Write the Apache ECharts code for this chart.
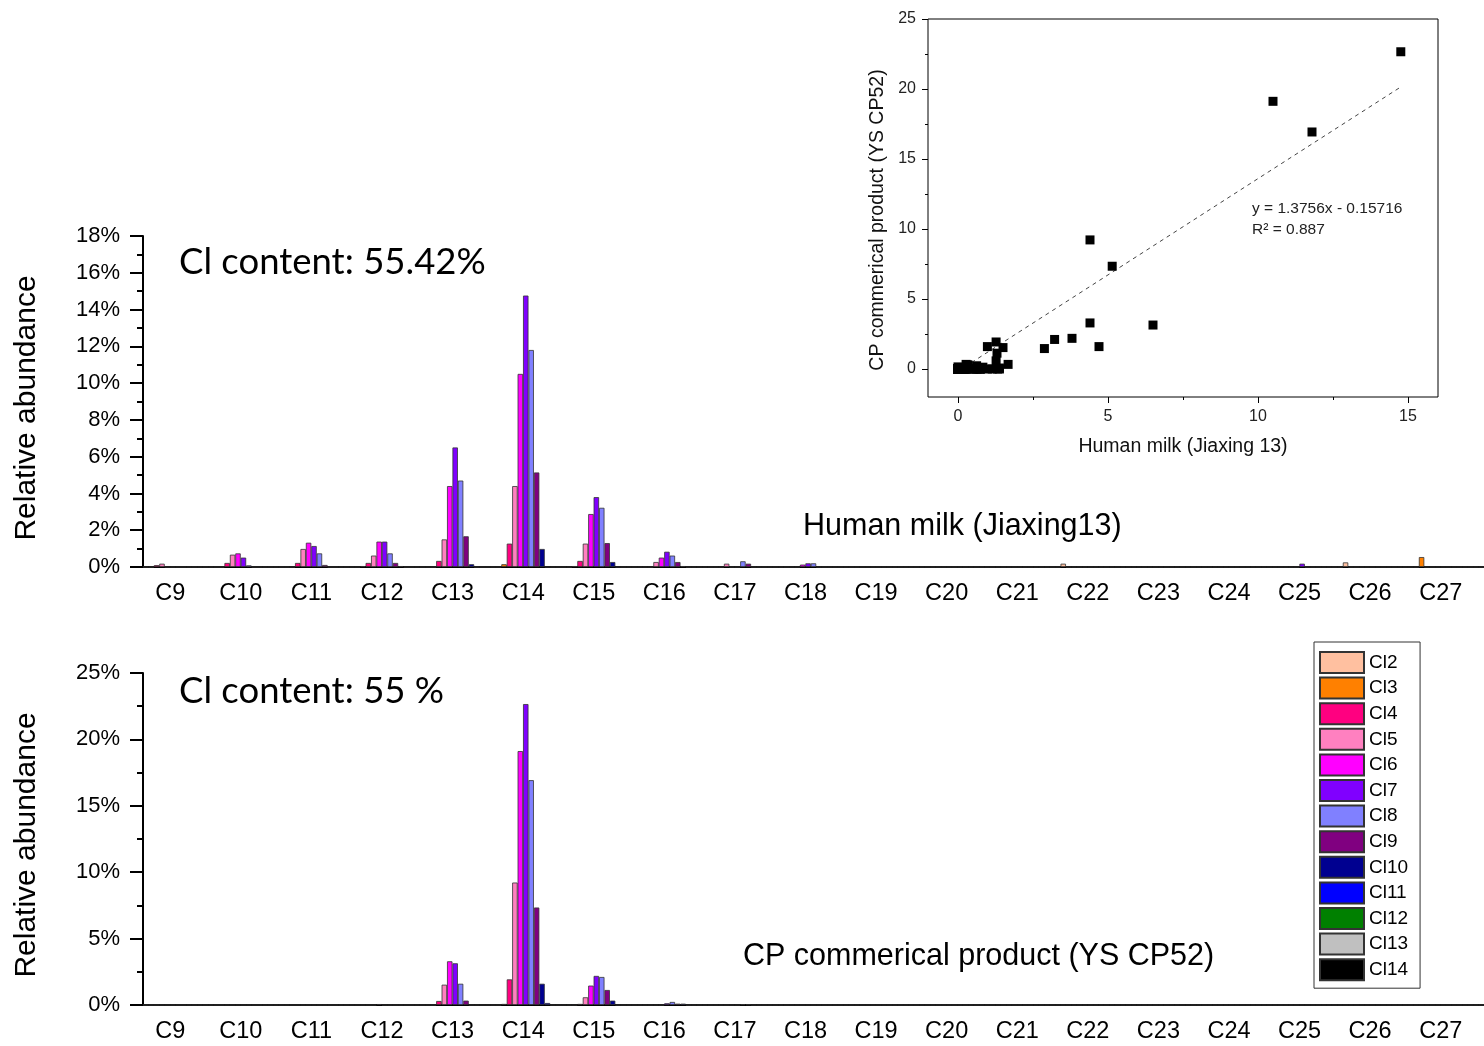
<!DOCTYPE html>
<html><head><meta charset="utf-8">
<script src="https://cdn.jsdelivr.net/npm/echarts@6/dist/echarts.min.js"></script>
<style>html,body{margin:0;padding:0;background:#fff}#c{width:1484px;height:1046px}</style>
</head><body><div id="c"></div>
<script>
const categories = ['C9','C10','C11','C12','C13','C14','C15','C16','C17','C18','C19','C20','C21','C22','C23','C24','C25','C26','C27'];
const clNames = ['Cl2','Cl3','Cl4','Cl5','Cl6','Cl7','Cl8','Cl9','Cl10','Cl11','Cl12','Cl13','Cl14'];
const clColors = ['#FFC0A0','#FF8000','#FF0080','#FF80C0','#FF00FF','#8000FF','#8080FF','#800080','#000090','#0000FF','#008000','#C0C0C0','#000000'];

// Human milk (Jiaxing13), relative abundance in %, C9..C27
const milkCl2  = [0,0,0,0,0,0,0,0,0,0,0,0,0,0.18,0,0,0,0.25,0];
const milkCl3  = [0,0,0,0.05,0,0.15,0.05,0,0,0,0,0,0,0,0,0,0,0,0.54];
const milkCl4  = [0.10,0.22,0.22,0.22,0.33,1.27,0.33,0,0,0,0,0,0,0,0,0,0,0,0];
const milkCl5  = [0.18,0.67,0.98,0.62,1.50,4.40,1.27,0.27,0.18,0,0,0,0,0,0,0,0,0,0];
const milkCl6  = [0,0.74,1.32,1.38,4.40,10.50,2.88,0.51,0,0.13,0,0,0,0,0,0,0,0,0];
const milkCl7  = [0,0.51,1.14,1.38,6.50,14.76,3.80,0.83,0,0.20,0,0,0,0,0,0,0.18,0,0];
const milkCl8  = [0,0.09,0.74,0.74,4.70,11.80,3.22,0.62,0.31,0.20,0,0,0,0,0,0,0,0,0];
const milkCl9  = [0,0,0.11,0.22,1.67,5.14,1.30,0.27,0.18,0,0,0,0,0,0,0,0,0,0];
const milkCl10 = [0,0,0,0.05,0.15,0.98,0.27,0.05,0,0,0,0,0,0,0,0,0,0,0];
const milkCl11 = [0,0,0,0,0,0,0,0,0,0,0,0,0,0,0,0,0,0,0];
const milkCl12 = [0,0,0,0,0,0,0,0,0,0,0,0,0,0,0,0,0,0,0];
const milkCl13 = [0,0,0,0,0,0,0,0,0,0,0,0,0,0,0,0,0,0,0];
const milkCl14 = [0,0,0,0,0,0,0,0,0,0,0,0,0,0,0,0,0,0,0];

// CP commerical product (YS CP52), relative abundance in %, C9..C27
const cpCl2  = [0,0,0,0,0,0,0,0,0,0,0,0,0,0,0,0,0,0,0];
const cpCl3  = [0,0,0,0,0,0.08,0,0,0,0,0,0,0,0,0,0,0,0,0];
const cpCl4  = [0,0,0,0,0.30,1.93,0.08,0,0,0,0,0,0,0,0,0,0,0,0];
const cpCl5  = [0,0,0,0,1.53,9.22,0.58,0,0,0,0,0,0,0,0,0,0,0,0];
const cpCl6  = [0,0,0,0.07,3.29,19.12,1.46,0,0,0,0,0,0,0,0,0,0,0,0];
const cpCl7  = [0,0,0,0,3.14,22.66,2.19,0.13,0,0,0,0,0,0,0,0,0,0,0];
const cpCl8  = [0,0,0,0,1.60,16.93,2.11,0.23,0.05,0,0,0,0,0,0,0,0,0,0];
const cpCl9  = [0,0,0,0,0.33,7.34,1.13,0.10,0.04,0,0,0,0,0,0,0,0,0,0];
const cpCl10 = [0,0,0,0,0,1.60,0.33,0.10,0,0,0,0,0,0,0,0,0,0,0];
const cpCl11 = [0,0,0,0,0,0.15,0,0,0,0,0,0,0,0,0,0,0,0,0];
const cpCl12 = [0,0,0,0,0,0,0,0,0,0,0,0,0,0,0,0,0,0,0];
const cpCl13 = [0,0,0,0,0,0,0,0,0,0,0,0,0,0,0,0,0,0,0];
const cpCl14 = [0,0,0,0,0,0,0,0,0,0,0,0,0,0,0,0,0,0,0];

const scatterXTicks = [0,5,10,15];
const scatterYTicks = [0,5,10,15,20,25];
const scatterXMinor = [2.5,7.5,12.5];
const scatterYMinor = [2.5,7.5,12.5,17.5,22.5];
const fitSlope = 1.3756, fitIntercept = -0.15716, fitXRange = [0, 14.76];

const milkSeries = [milkCl2,milkCl3,milkCl4,milkCl5,milkCl6,milkCl7,milkCl8,milkCl9,milkCl10,milkCl11,milkCl12,milkCl13,milkCl14];
const cpSeries = [cpCl2,cpCl3,cpCl4,cpCl5,cpCl6,cpCl7,cpCl8,cpCl9,cpCl10,cpCl11,cpCl12,cpCl13,cpCl14];

const FONT = '"Liberation Sans", Arial, sans-serif';

const scatterData = [];
milkSeries.forEach((arr, i) => arr.forEach((v, j) => scatterData.push([v, cpSeries[i][j]])));

function catAxes(gridIndex) {
  return [{
    type: 'category', gridIndex, data: categories, position: 'bottom',
    axisLine: { lineStyle: { color: '#000', width: 2 } },
    axisTick: { alignWithLabel: true, length: 13, lineStyle: { color: '#000', width: 2 } },
    axisLabel: { color: '#000', fontSize: 23.5, fontFamily: FONT, margin: 15, padding: [0, 16, 0, 0], interval: 0 }
  }, {
    type: 'category', gridIndex, data: categories, position: 'bottom',
    axisLine: { show: false },
    axisTick: { length: 7, lineStyle: { color: '#000', width: 2 } },
    axisLabel: { show: false }
  }];
}
function valAxis(gridIndex, max, interval) {
  return {
    type: 'value', gridIndex, min: 0, max, interval,
    axisLine: { show: true, lineStyle: { color: '#000', width: 2 } },
    axisTick: { show: true, length: 13, lineStyle: { color: '#000', width: 2 } },
    minorTick: { show: true, splitNumber: 2, length: 6, lineStyle: { color: '#000', width: 2 } },
    splitLine: { show: false },
    axisLabel: { formatter: '{value}%', color: '#000', fontSize: 22, fontFamily: FONT, margin: 23 }
  };
}
function scatterAxis(gridIndex, min, max, ticks, len, labels, extra) {
  return Object.assign({
    type: 'value', gridIndex, min, max,
    axisLine: { show: false, onZero: false }, splitLine: { show: false },
    axisTick: { show: true, customValues: ticks, length: len, lineStyle: { color: '#000' } },
    axisLabel: labels ? { customValues: ticks, color: '#222', fontSize: 16, fontFamily: FONT, margin: 12 } : { show: false }
  }, extra);
}

const series = [];
clNames.forEach((n, i) => {
  series.push({ type: 'bar', name: n, xAxisIndex: 0, yAxisIndex: 0, data: milkSeries[i],
    barGap: '0%', barCategoryGap: '0%',
    itemStyle: { color: clColors[i], borderColor: '#333', borderWidth: 0.8 } });
});
clNames.forEach((n, i) => {
  series.push({ type: 'bar', name: n, xAxisIndex: 2, yAxisIndex: 1, data: cpSeries[i],
    barGap: '0%', barCategoryGap: '0%',
    itemStyle: { color: clColors[i], borderColor: '#333', borderWidth: 0.8 } });
});
series.push({ type: 'scatter', name: 'pairs', xAxisIndex: 4, yAxisIndex: 2, data: scatterData,
  symbol: 'rect', symbolSize: 9, itemStyle: { color: '#000', opacity: 1 }, z: 5 });
series.push({ type: 'line', name: 'fit', xAxisIndex: 4, yAxisIndex: 2,
  data: fitXRange.map(x => [x, fitSlope * x + fitIntercept]),
  symbol: 'none', lineStyle: { color: '#444', width: 1, type: [4, 4] }, z: 4 });

const option = {
  animation: false,
  grid: [
    { left: 143, top: 236, right: 0, height: 331 },
    { left: 143, top: 673, right: 0, height: 332 },
    { left: 928, top: 19, width: 510, height: 378, show: true, borderColor: '#000', borderWidth: 1, backgroundColor: 'transparent' }
  ],
  xAxis: [
    ...catAxes(0), ...catAxes(1),
    scatterAxis(2, -1, 16, scatterXTicks, 6, true, { position: 'bottom' }),
    scatterAxis(2, -1, 16, scatterXMinor, 3, false, { position: 'bottom' })
  ],
  yAxis: [
    valAxis(0, 18, 2), valAxis(1, 25, 5),
    scatterAxis(2, -2, 25, scatterYTicks, 6, true, { position: 'left' }),
    scatterAxis(2, -2, 25, scatterYMinor, 3, false, { position: 'left' })
  ],
  legend: {
    data: clNames, orient: 'vertical', left: 1314, top: 642,
    icon: 'rect', itemWidth: 44, itemHeight: 21, itemGap: 2.6,
    padding: [9, 12, 7, 5], borderColor: '#333', borderWidth: 1,
    selectedMode: false,
    textStyle: { color: '#000', fontSize: 19, fontFamily: FONT }
  },
  graphic: [
    { type: 'text', x: 27, y: 408, rotation: Math.PI / 2,
      style: { text: 'Relative abundance', fontSize: 30, fontFamily: FONT, fill: '#000', textAlign: 'center', textVerticalAlign: 'middle' } },
    { type: 'text', x: 27, y: 845, rotation: Math.PI / 2,
      style: { text: 'Relative abundance', fontSize: 30, fontFamily: FONT, fill: '#000', textAlign: 'center', textVerticalAlign: 'middle' } },
    { type: 'text', x: 179, y: 262,
      style: { text: 'Cl content: 55.42%', fontSize: 36.5, fontFamily: 'Lato, "Open Sans", sans-serif', fill: '#000', textAlign: 'left', textVerticalAlign: 'middle' } },
    { type: 'text', x: 179, y: 691,
      style: { text: 'Cl content: 55 %', fontSize: 36.5, fontFamily: 'Lato, "Open Sans", sans-serif', fill: '#000', textAlign: 'left', textVerticalAlign: 'middle' } },
    { type: 'text', x: 803, y: 527,
      style: { text: 'Human milk (Jiaxing13)', fontSize: 30.5, fontFamily: FONT, fill: '#000', textAlign: 'left', textVerticalAlign: 'middle' } },
    { type: 'text', x: 743, y: 957,
      style: { text: 'CP commerical product (YS CP52)', fontSize: 30.5, fontFamily: FONT, fill: '#000', textAlign: 'left', textVerticalAlign: 'middle' } },
    { type: 'text', x: 878, y: 220, rotation: Math.PI / 2,
      style: { text: 'CP commerical product (YS CP52)', fontSize: 19.5, fontFamily: FONT, fill: '#111', textAlign: 'center', textVerticalAlign: 'middle' } },
    { type: 'text', x: 1183, y: 447,
      style: { text: 'Human milk (Jiaxing 13)', fontSize: 19.5, fontFamily: FONT, fill: '#111', textAlign: 'center', textVerticalAlign: 'middle' } },
    { type: 'text', x: 1252, y: 209,
      style: { text: 'y = 1.3756x - 0.15716', fontSize: 15.5, fontFamily: FONT, fill: '#222', textAlign: 'left', textVerticalAlign: 'middle' } },
    { type: 'text', x: 1252, y: 230,
      style: { text: 'R² = 0.887', fontSize: 15.5, fontFamily: FONT, fill: '#222', textAlign: 'left', textVerticalAlign: 'middle' } }
  ],
  series
};
const chart = echarts.init(document.getElementById('c'), null, { renderer: 'canvas' });
chart.setOption(option);
</script>
</body></html>
